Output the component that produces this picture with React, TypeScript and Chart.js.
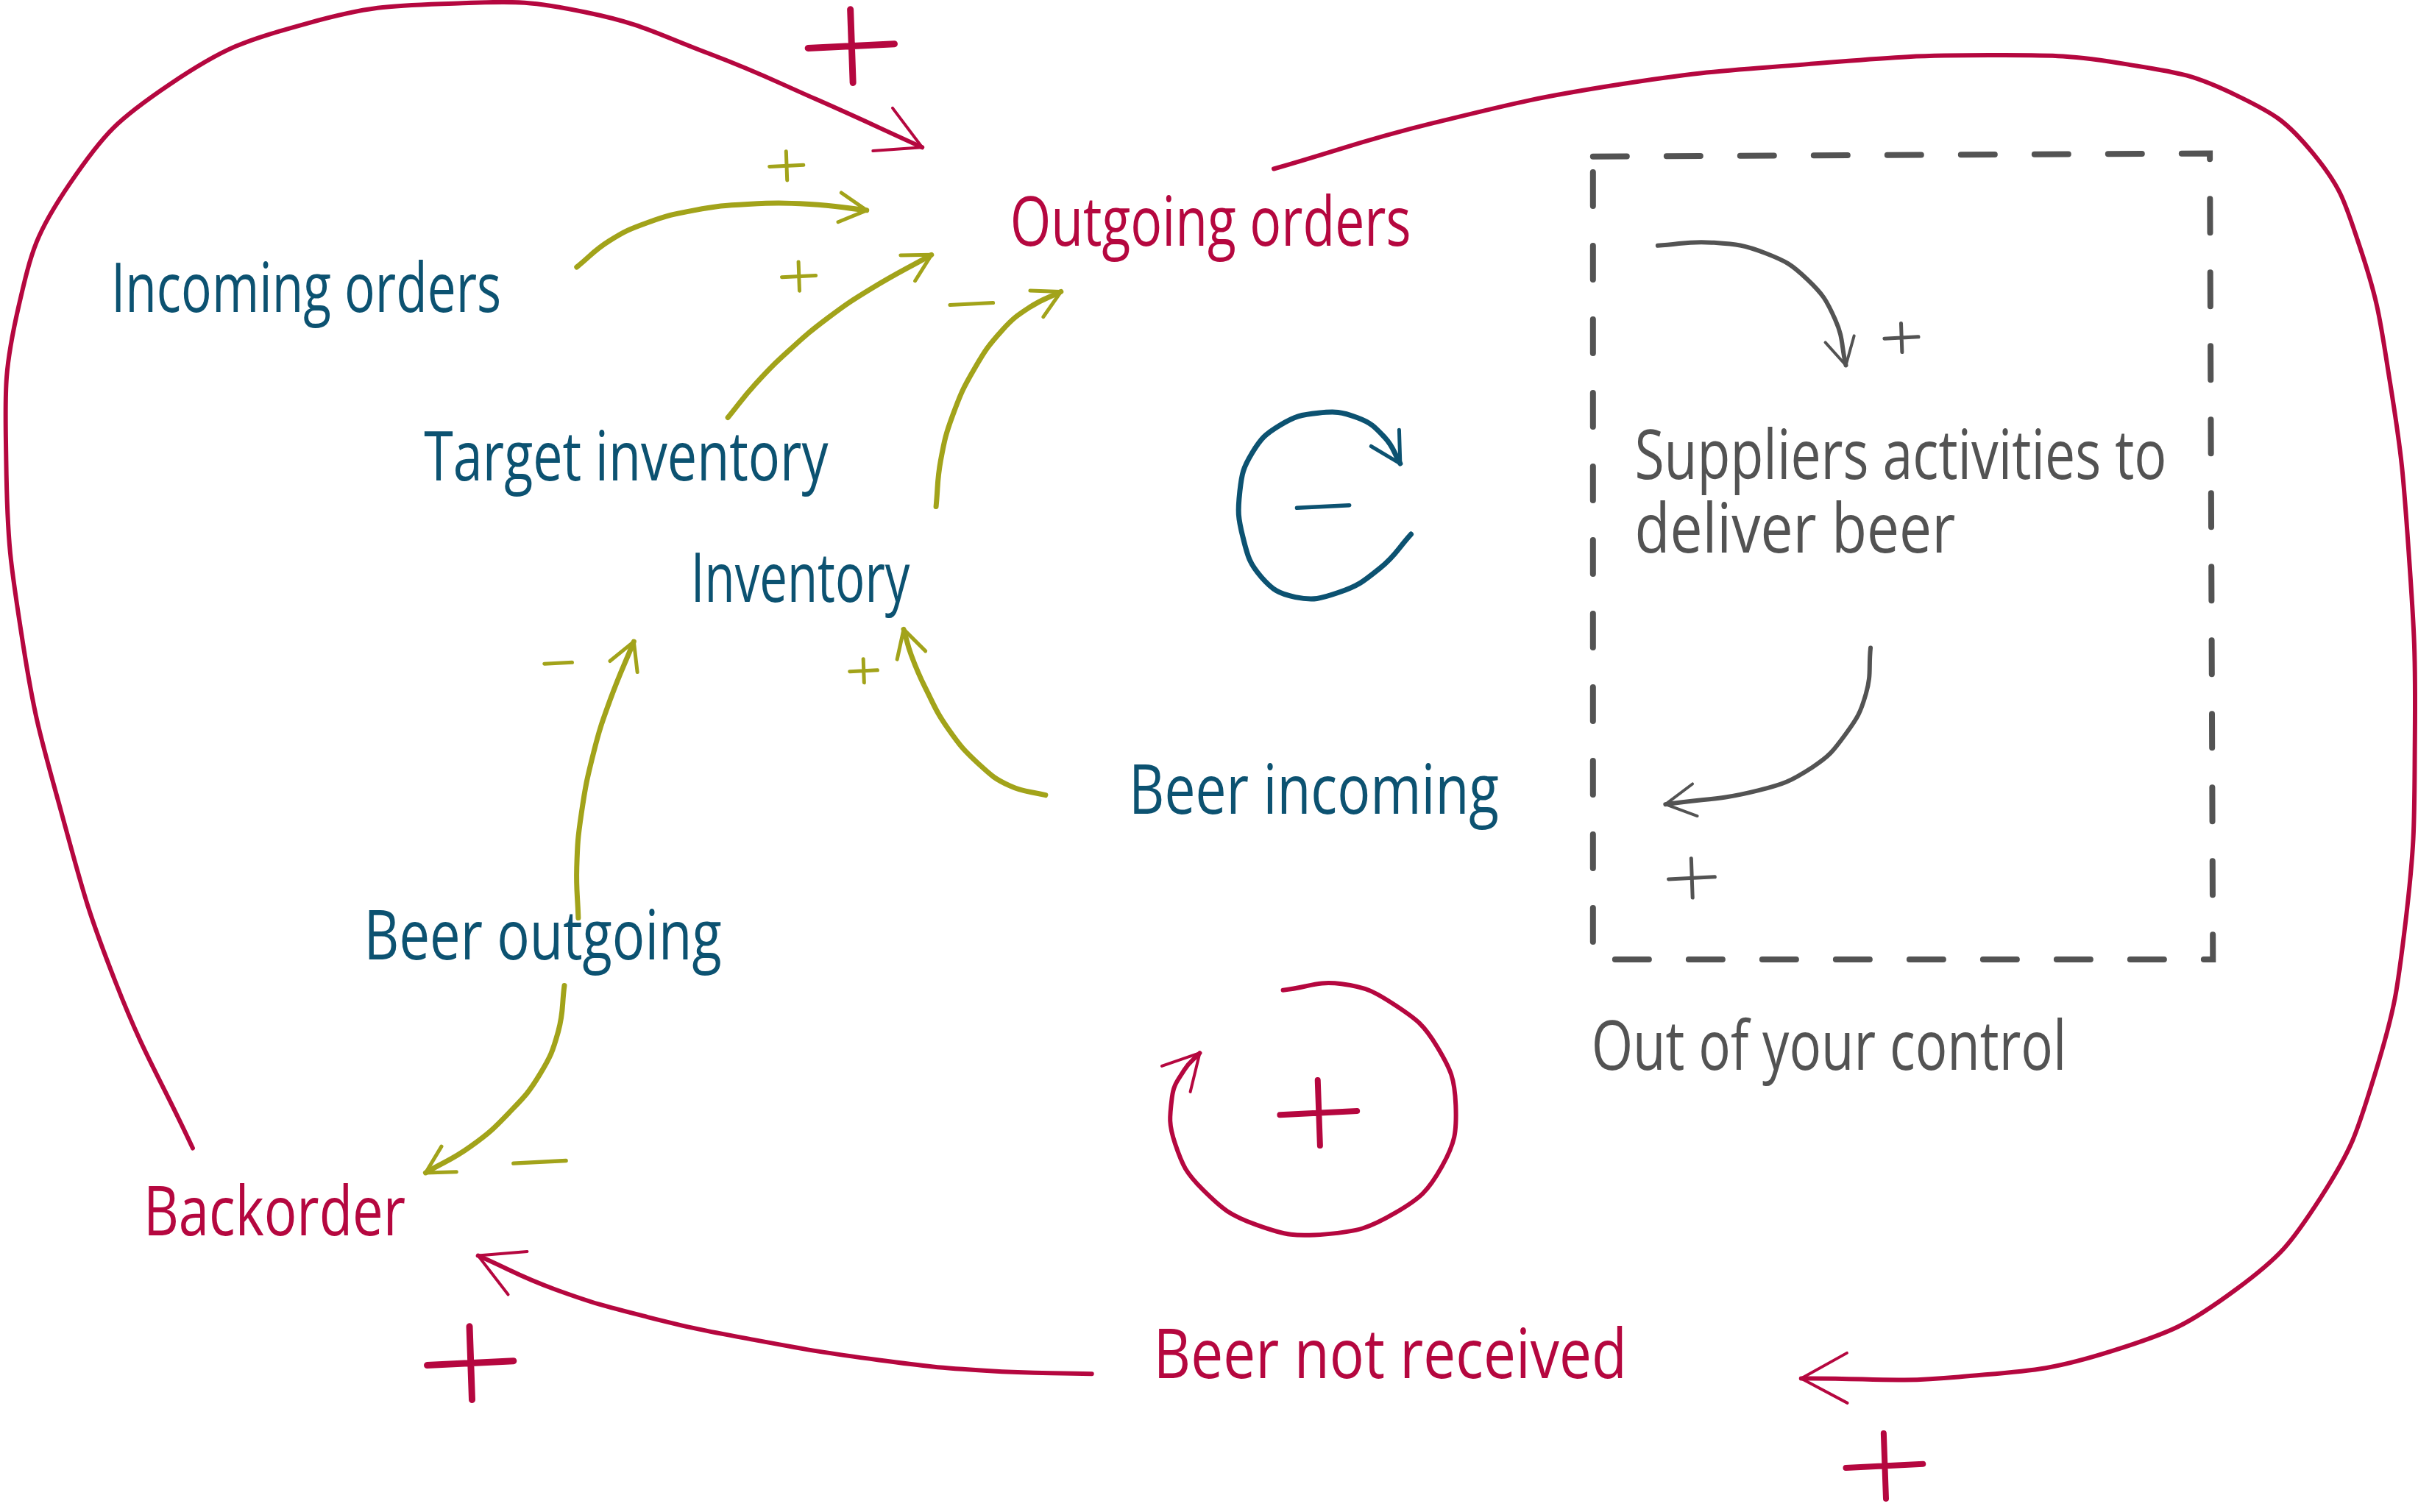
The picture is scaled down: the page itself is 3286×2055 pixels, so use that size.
import React, { useEffect, useRef } from "react";
import { Chart, registerables } from "chart.js";

Chart.register(...registerables);

type Pt = [number, number];

// causal links, in picture units (x 0..1568, y 0..985 from the top)
const incomingToOutgoing: Pt[] = [[374, 174], [395, 157], [420, 145], [450, 137], [485, 133], [525, 133], [562, 137]];
const targetToOutgoing: Pt[] = [[472, 272], [490, 250], [512, 228], [537, 207], [565, 188], [604, 166]];
const inventoryToOutgoing: Pt[] = [[607, 330], [610, 300], [618, 270], [632, 240], [650, 215], [668, 200], [688, 190]];
const beerInToInventory: Pt[] = [[678, 518], [655, 512], [635, 498], [615, 475], [600, 448], [591, 427], [586, 410]];
const beerOutToInventory: Pt[] = [[375, 598], [374, 565], [377, 530], [385, 490], [396, 455], [411, 418]];
const beerOutToBackorder: Pt[] = [[366, 642], [362, 672], [350, 700], [330, 725], [305, 747], [276, 764]];
const backorderToOutgoing: Pt[] = [
  [125, 748], [75, 640], [40, 530], [15, 420], [4, 300], [12, 200], [45, 120], [110, 55],
  [200, 15], [300, 2], [380, 8], [460, 35], [530, 65], [598, 96],
];
const outgoingToNotReceived: Pt[] = [
  [826, 110], [930, 80], [1050, 55], [1170, 42], [1290, 36], [1380, 42], [1450, 62], [1500, 100],
  [1530, 160], [1550, 250], [1562, 360], [1566, 480], [1560, 600], [1540, 700], [1505, 780],
  [1450, 840], [1370, 880], [1270, 897], [1168, 898],
];
const notReceivedToBackorder: Pt[] = [
  [708, 895], [640, 893], [570, 886], [490, 873], [420, 858], [360, 840], [310, 818],
];
const reinforcingLoop: Pt[] = [
  [832, 645], [870, 641], [905, 655], [932, 682], [944, 720], [935, 760], [905, 790], [860, 804],
  [815, 798], [780, 775], [762, 745], [760, 715], [768, 697], [778, 686],
];
const balancingLoop: Pt[] = [
  [915, 348], [895, 370], [868, 386], [840, 389], [818, 376], [806, 350], [804, 320], [812, 295],
  [830, 277], [855, 269], [880, 272], [898, 285], [908, 302],
];
const supplyTop: Pt[] = [[1075, 160], [1110, 158], [1145, 165], [1172, 182], [1190, 208], [1197, 238]];
const supplyBottom: Pt[] = [[1213, 422], [1210, 452], [1197, 478], [1175, 500], [1140, 515], [1080, 524]];
const controlBox: Pt[] = [[1033, 102], [1433, 100], [1435, 625], [1033, 625], [1033, 102]];

// node labels
const labelTexts = [
  "Incoming orders", "Outgoing orders", "Target inventory", "Inventory", "Beer incoming",
  "Beer outgoing", "Backorder", "Beer not received", "Suppliers activities to", "deliver beer",
  "Out of your control",
];
const labelAnchors: Pt[] = [
  [72, 203], [655, 160], [275, 313], [448, 392], [732, 530], [236, 625], [93, 805],
  [748, 898], [1060, 312], [1060, 360], [1032, 697],
];
const labelSpans = [253, 260, 262, 142, 240, 232, 170, 307, 345, 208, 308];
const labelTones = [
  "teal", "crimson", "teal", "teal", "teal", "teal", "crimson", "crimson", "gray", "gray", "gray",
];

// polarity signs
const signTypes = ["+", "+", "+", "-", "+", "-", "-", "+", "+", "+", "-", "+", "+"];
const signCenters: Pt[] = [
  [552, 30], [510, 108], [518, 180], [630, 198], [560, 437], [362, 432], [350, 757],
  [305, 888], [1222, 955], [855, 725], [858, 330], [1233, 220], [1097, 572],
];
const signSizes = [28, 11, 11, 14, 9, 9, 17, 28, 25, 25, 17, 11, 15];
const signTones = [
  "crimson", "olive", "olive", "olive", "olive", "olive", "olive", "crimson", "crimson",
  "crimson", "teal", "gray", "gray",
];

const tones: Record<string, string> = {
  crimson: "#b5073f",
  teal: "#0c5271",
  olive: "#a2a31a",
  gray: "#535353",
};

const links: { pts: Pt[]; tone: string; width: number; barb: number }[] = [
  { pts: incomingToOutgoing, tone: "olive", width: 7, barb: 20 },
  { pts: targetToOutgoing, tone: "olive", width: 7, barb: 20 },
  { pts: inventoryToOutgoing, tone: "olive", width: 7, barb: 20 },
  { pts: beerInToInventory, tone: "olive", width: 7, barb: 20 },
  { pts: beerOutToInventory, tone: "olive", width: 7, barb: 20 },
  { pts: beerOutToBackorder, tone: "olive", width: 7, barb: 20 },
  { pts: backorderToOutgoing, tone: "crimson", width: 6, barb: 32 },
  { pts: outgoingToNotReceived, tone: "crimson", width: 6, barb: 34 },
  { pts: notReceivedToBackorder, tone: "crimson", width: 6, barb: 32 },
  { pts: reinforcingLoop, tone: "crimson", width: 6, barb: 26 },
  { pts: balancingLoop, tone: "teal", width: 7, barb: 22 },
  { pts: supplyTop, tone: "gray", width: 6, barb: 20 },
  { pts: supplyBottom, tone: "gray", width: 6, barb: 22 },
];

const toXY = (p: Pt) => ({ x: p[0], y: p[1] });

const arrowHead = (pts: Pt[], len: number): Pt[] => {
  const tip = pts[pts.length - 1];
  const prev = pts[pts.length - 2];
  const a = Math.atan2(tip[1] - prev[1], tip[0] - prev[0]);
  const spread = 0.5;
  return [
    [tip[0] - len * Math.cos(a - spread), tip[1] - len * Math.sin(a - spread)],
    tip,
    [tip[0] - len * Math.cos(a + spread), tip[1] - len * Math.sin(a + spread)],
  ];
};

const annotations = {
  id: "annotations",
  afterDatasetsDraw(chart: Chart) {
    const { ctx } = chart;
    const xs = chart.scales.x;
    const ys = chart.scales.y;
    const unitX = xs.getPixelForValue(1) - xs.getPixelForValue(0);
    const unitY = ys.getPixelForValue(1) - ys.getPixelForValue(0);

    ctx.save();
    ctx.lineCap = "round";
    signTypes.forEach((type, i) => {
      const [cx, cy] = signCenters[i];
      const px = xs.getPixelForValue(cx);
      const py = ys.getPixelForValue(cy);
      const h = signSizes[i] * unitX;
      ctx.strokeStyle = tones[signTones[i]];
      ctx.lineWidth = Math.max(5, signSizes[i] * 0.32);
      ctx.beginPath();
      ctx.moveTo(px - h, py + h * 0.05);
      ctx.lineTo(px + h, py - h * 0.05);
      if (type === "+") {
        ctx.moveTo(px - h * 0.02, py - h * 0.85);
        ctx.lineTo(px + h * 0.04, py + h * 0.85);
      }
      ctx.stroke();
    });

    const fontPx = 45 * unitY;
    ctx.font = `400 ${fontPx}px "Open Sans", "DejaVu Sans", sans-serif`;
    ctx.textBaseline = "alphabetic";
    ctx.textAlign = "left";
    labelTexts.forEach((text, i) => {
      const [lx, ly] = labelAnchors[i];
      const want = labelSpans[i] * unitX;
      const got = ctx.measureText(text).width;
      ctx.save();
      ctx.translate(xs.getPixelForValue(lx), ys.getPixelForValue(ly));
      ctx.scale(want / got, 1);
      ctx.fillStyle = tones[labelTones[i]];
      ctx.fillText(text, 0, 0);
      ctx.restore();
    });
    ctx.restore();
  },
};

const App: React.FC = () => {
  const canvasRef = useRef<HTMLCanvasElement | null>(null);

  useEffect(() => {
    document.body.style.margin = "0";
    document.body.style.overflow = "hidden";
    if (!canvasRef.current) return;

    const datasets: any[] = [];
    links.forEach((link) => {
      datasets.push({
        data: link.pts.map(toXY),
        showLine: true,
        borderColor: tones[link.tone],
        borderWidth: link.width,
        tension: 0.45,
        pointRadius: 0,
        fill: false,
        borderCapStyle: "round",
      });
      datasets.push({
        data: arrowHead(link.pts, link.barb).map(toXY),
        showLine: true,
        borderColor: tones[link.tone],
        borderWidth: Math.max(3, link.width - 2),
        tension: 0,
        pointRadius: 0,
        fill: false,
        borderCapStyle: "round",
        borderJoinStyle: "round",
      });
    });
    datasets.push({
      data: controlBox.map(toXY),
      showLine: true,
      borderColor: tones.gray,
      borderWidth: 8,
      borderDash: [46, 54],
      borderCapStyle: "round",
      tension: 0,
      pointRadius: 0,
      fill: false,
    });

    const chart = new Chart(canvasRef.current, {
      type: "scatter",
      data: { datasets },
      options: {
        animation: false,
        responsive: true,
        maintainAspectRatio: false,
        layout: { padding: 0 },
        clip: false as any,
        plugins: { legend: { display: false }, tooltip: { enabled: false } },
        scales: {
          x: { type: "linear", display: false, min: 0, max: 1568 },
          y: { type: "linear", display: false, min: 0, max: 985, reverse: true },
        },
      },
      plugins: [annotations],
    });

    return () => chart.destroy();
  }, []);

  return (
    <div style={{ width: "3286px", height: "2055px", background: "#ffffff" }}>
      <canvas ref={canvasRef} />
    </div>
  );
};

export default App;
